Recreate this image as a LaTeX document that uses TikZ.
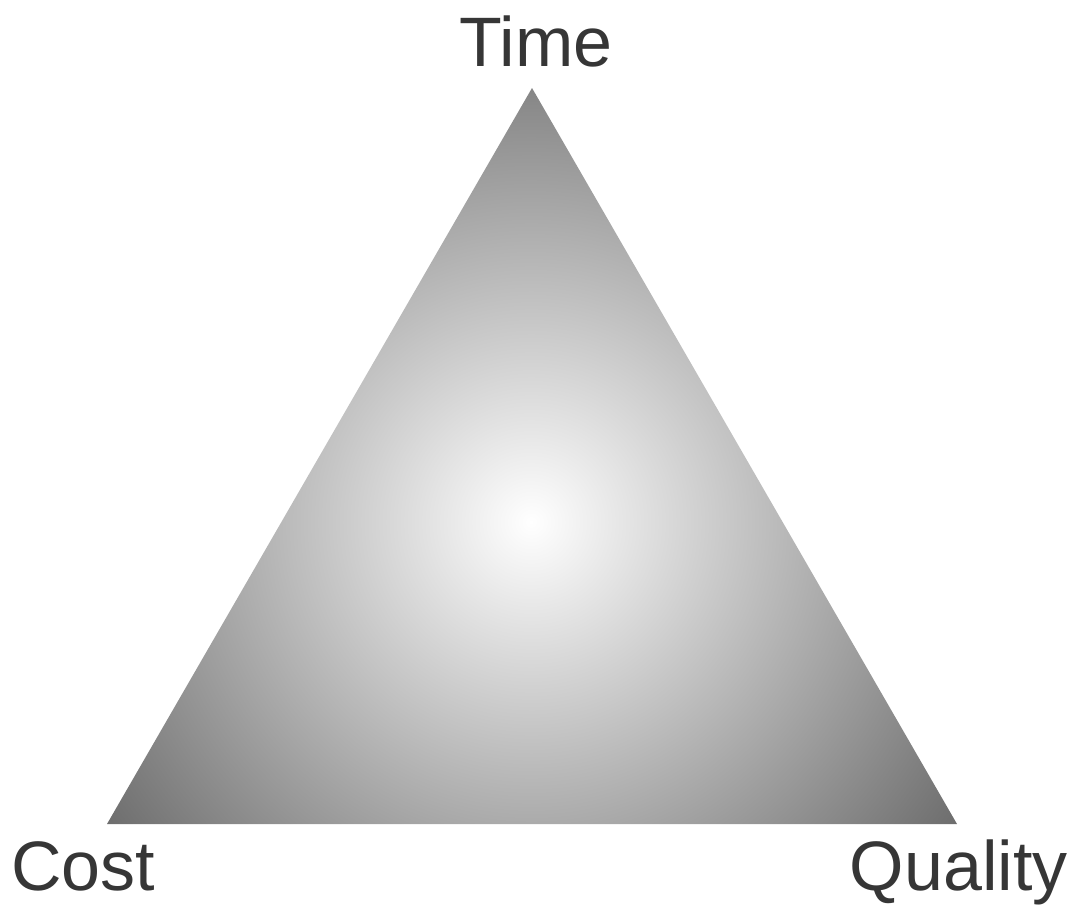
\documentclass[tikz,border=0pt]{standalone}
\usepackage{fontspec}
\setmainfont{Liberation Sans}
\definecolor{txt}{HTML}{363636}
\definecolor{rim}{RGB}{107,107,107}
\pgfdeclareradialshading{trishade}{\pgfpoint{0bp}{0bp}}{color(0bp)=(white); color(25bp)=(rim); color(50bp)=(rim)}
\tikzset{lbl/.style={font=\fontsize{70}{84}\selectfont, text=txt, inner sep=0pt}}
\begin{document}
\begin{tikzpicture}[x=1pt,y=-1pt]
\useasboundingbox (0,0) rectangle (1073,905);
\coordinate (T) at (532,88);
\coordinate (L) at (107,824);
\coordinate (R) at (957,824);
\coordinate (C) at (531,522);
\begin{scope}
\clip (T) -- (L) -- (R) -- cycle;
\shade[shading=trishade] (C) circle (530);
\end{scope}
\node[lbl, anchor=base] (time) at (536,66) {Time};
\node[lbl, anchor=base west, text depth=0pt] (cost) at (11,890) {Cost};
\node[lbl, anchor=base east] (quality) at (1068,890) {Quality};
\end{tikzpicture}
\end{document}
